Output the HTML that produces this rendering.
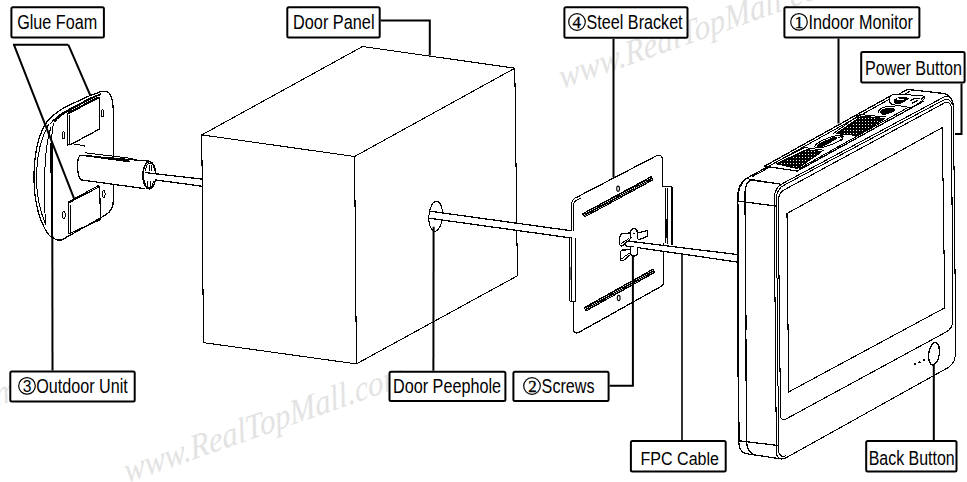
<!DOCTYPE html>
<html><head><meta charset="utf-8"><title>Installation Diagram</title>
<style>
html,body{margin:0;padding:0;background:#fff;}
body{width:967px;height:482px;overflow:hidden;}
svg{display:block;}
.lbl{font-family:"Liberation Sans",sans-serif;font-size:19.3px;fill:#000;}
.num{font-family:"Liberation Sans",sans-serif;font-size:15.6px;fill:#000;}
.nums{font-family:"Liberation Serif",serif;font-size:17px;fill:#000;stroke:#000;stroke-width:0.35px;}
.wm{font-family:"Liberation Serif",serif;font-style:italic;font-size:33px;fill:#e3e3e3;}
.box{fill:#fff;stroke:#000;stroke-width:2;}
.ld{fill:none;stroke:#000;stroke-width:2;}
.ln{fill:none;stroke:#000;stroke-width:1.25;stroke-linejoin:round;stroke-linecap:round;}
.lt{fill:none;stroke:#000;stroke-width:1;stroke-linejoin:round;stroke-linecap:round;}
.lm{fill:none;stroke:#000;stroke-width:1.05;stroke-linejoin:round;}
.lc{fill:none;stroke:#000;stroke-width:1.05;stroke-linejoin:round;}
.th{fill:none;stroke:#000;stroke-width:2;stroke-linejoin:round;}
.wf{fill:#fff;}
</style></head>
<body>
<svg width="967" height="482" viewBox="0 0 967 482">
<!-- watermarks -->
<g id="wm">
<text class="wm" transform="translate(561.5,89) rotate(-19.5) skewX(-9) scale(0.97,1.05)">www.RealTopMall.com</text>
<text class="wm" transform="translate(126.5,483) rotate(-19.3) skewX(-9) scale(0.97,1.05)">www.RealTopMall.com</text>
<text class="wm" transform="translate(-262,497) rotate(-19.3) skewX(-9) scale(0.97,1.05)">www.RealTopMall.com</text>
</g>

<!-- OUTDOOR UNIT -->
<g id="outdoor" shape-rendering="crispEdges">
<!-- back plate outline -->
<path class="ln" d="M46.6,122.2 C52,116 58,111 64.9,107.2 L89.8,95.6 L101,91.6 C106,90.5 109,92 110.5,95 C112.5,99 113,104 113.3,110 L113.6,145 L113.4,200 C113.4,207 111.5,211.5 105.5,215 L62,239.8 C57,241 54,239 51.5,236"/>
<!-- inner parallel top edges -->
<path class="th" d="M54.1,122.2 C58,117 62,114 68,111 L91.5,98.1 L101,94" style="stroke-width:1.6"/>
<path class="lt" d="M50,124 C54,119 58,115.5 65,111.5 L92,97"/>
<!-- front cover curves -->
<path class="ln" d="M46.6,122.2 C40,132 34.8,150 34,173 C33.6,196 38,216 45,229 C47,233 49.5,236 52,238"/>
<path class="lt" d="M48.5,124.5 C42,136 37.2,152 36.5,174 C36.2,194 40,212 46,225"/>
<path class="lt" d="M51,127 C47,140 44.8,160 44.6,180 C44.5,200 44.8,212 45.5,224"/>
<path class="lt" d="M53.5,123.5 C52,130 51.6,137 51.6,144"/>
<path class="th" d="M51.6,143 L51.8,238" style="stroke-width:2.3"/>
<!-- upper foam -->
<path class="ln" d="M67.6,114 L99.4,97.5 L99.4,129.1 L70.8,144.5 L67.6,144.9 Z"/>
<path class="lt" d="M69.5,115.5 L69.5,144.5 M68.3,112.5 L98,97"/>
<path class="lt" d="M72.5,143.7 L84.5,145.8 L84.5,147"/>
<!-- lower foam -->
<path class="ln" d="M68.2,203.1 L99.4,186.7 L100.8,219.4 L68.9,233.9 Z"/>
<path class="lt" d="M70,204 L70.5,233 M69,201.5 L98.5,185.5"/>
<!-- screw holes -->
<ellipse class="lt" cx="63.5" cy="135.4" rx="1.5" ry="3.6"/>
<ellipse class="lt" cx="102.5" cy="113.3" rx="1.5" ry="3.4"/>
<ellipse class="lt" cx="103.6" cy="194" rx="1.5" ry="3.4"/>
<ellipse class="lt" cx="63.8" cy="215" rx="1.5" ry="3.6"/>
<!-- cylinder -->
<path class="wf" d="M79.9,155.4 L148.8,161.1 L149.3,189 L80.4,179.8 C77,175 76.5,160 79.9,155.4 Z"/>
<path class="ln" d="M79.9,155.4 C76.6,160 76.5,172 80.4,179.5 M79.9,155.4 L148.8,161.1 M80.4,179.8 L144.7,188.6"/>
<path class="lt" d="M85,152.8 L132.2,158.5"/>
<path class="th" d="M85,155.4 L130.2,161.6" style="stroke-width:1.8"/>
<!-- end cap -->
<ellipse class="th" cx="149.3" cy="175.3" rx="6.5" ry="13.6" style="fill:#fff;stroke-width:1.4"/>
<path class="lt" d="M145.8,171 C145.8,165.5 147.5,163 150,163 C152.5,163 154.2,165.5 154.2,171 M149.3,165.5 L149.3,171 M151.5,165.5 L151.5,171 M144.8,180 C144.8,185.5 146.8,188 149,188 C151.3,188 153.3,185.5 153.3,180 M147.3,181 L147.3,186.5 M150,181 L150,187"/>
</g>

<!-- DOOR PANEL CUBOID -->
<g id="door" shape-rendering="crispEdges">
<path class="lc" d="M201.8,134.9 L362.6,46.5 L514.8,68.2 L354.6,156.5 Z"/>
<path class="lc" d="M201.8,134.9 L203.4,342.6 L356.4,363.9 L517.4,275.8 L514.8,68.2"/>
<path class="lc" d="M354.6,156.5 L356.4,363.9"/>
<!-- peephole -->
<ellipse class="lc" cx="435.7" cy="216.2" rx="6.8" ry="15" transform="rotate(4 435.7 216.2)"/>
</g>

<!-- RODS -->
<g id="rods" shape-rendering="crispEdges">
<!-- outdoor to door -->
<path class="wf" d="M145,172.6 L201.2,179 L201.2,186.1 L145,179.8 Z"/>
<path class="ln" d="M145.2,172.6 L201.2,179 M155.6,180 L201.2,186.1"/>
<!-- peephole to bracket -->
<path class="wf" d="M430,211.2 L571.5,230.8 L571.5,238 L429,218.2 Z"/>
<path class="ln" d="M430,211.2 L571.5,230.8 M429.1,218.2 L571.5,238"/>

</g>

<!-- STEEL BRACKET -->
<g id="bracket" shape-rendering="crispEdges">
<!-- right flange -->
<path class="wf" d="M662.4,186.8 L671.9,186.8 L671.9,244 L662.4,244 Z"/>
<path class="ln" d="M662.4,186.8 L671.9,186.8 L671.9,244.5"/>
<path class="lt" d="M665.7,188 L665.7,243 M667.8,188 L667.8,243.5"/>
<path class="th" d="M665.9,218.6 L665.9,237.6" style="stroke-width:1.4"/>
<!-- plate -->
<path class="wf" d="M578,196.6 L656,156 C660,154 663,156 663,160 L663.8,281 C663.8,284 662.5,285.8 660,287 L579,332.3 C575,334 573.2,332 573.2,328 L571.5,204 C571.5,200 574,198 578,196.6 Z"/>
<path class="ln" d="M578,196.6 L656,156 C660,154 662.4,156 662.4,160 L662.4,186.8 M663.8,244 L663.8,281 C663.8,284 662.5,285.8 660,287 L579,332.3 C575,334 573.2,332 573.2,328 L573.2,302 M571.5,230.5 L571.5,205 C571.5,200 574,198 578,196.6"/>
<path class="lt" d="M573.4,231 L573.4,206 C573.4,202 575,200.5 578.8,199 L581,197.9"/>
<!-- left flange -->
<path class="lm" d="M569.8,238 L569.8,301 L575.3,301.6 L575.3,238"/>
<path class="lm" d="M571.8,238 L571.8,301"/>
<path class="lm" d="M570.9,267 L570.9,280" style="stroke-width:0.9"/>
<!-- slots -->
<g transform="translate(583.1,215.6) rotate(-28.4)">
<rect x="0" y="-2.4" width="79" height="4.8" rx="0.8" fill="#000"/>
<line x1="1.2" y1="-0.7" x2="77.8" y2="-0.7" stroke="#fff" stroke-width="0.9" stroke-dasharray="1 1.4"/>
<line x1="1.9" y1="1" x2="77.8" y2="1" stroke="#fff" stroke-width="0.8" stroke-dasharray="1 1.4"/>
</g>
<g transform="translate(584.7,309.5) rotate(-29.23)">
<rect x="0" y="-2.4" width="79.6" height="4.8" rx="0.8" fill="#000"/>
<line x1="1.2" y1="-0.7" x2="78.4" y2="-0.7" stroke="#fff" stroke-width="0.9" stroke-dasharray="1 1.4"/>
<line x1="1.9" y1="1" x2="78.4" y2="1" stroke="#fff" stroke-width="0.8" stroke-dasharray="1 1.4"/>
</g>
<ellipse cx="618.1" cy="188.7" rx="1.4" ry="2.6" fill="none" stroke="#000" stroke-width="1.1" shape-rendering="auto"/>
<ellipse cx="618.7" cy="298" rx="1.4" ry="2.6" fill="none" stroke="#000" stroke-width="1.1" shape-rendering="auto"/>
<!-- screws -->
<g id="screws">
<!-- rod from screws to monitor -->
<path class="wf" d="M626,240.8 L736.6,254.4 L736.6,261.9 L626,246 Z"/>
<path class="ln" d="M626.5,240.9 L736,254.4 M628,246.2 L736.5,261.9 M626.5,240.9 C624.8,242 624.8,245 627,246.2"/>
<!-- upper wing screw -->
<path class="wf" d="M621.4,233.5 L630.2,231 L633,228.3 L637.5,229.5 L647.3,230.9 L647.3,236.6 L639,239.7 L630,240 L620.4,246 L619.3,240.7 Z"/>
<path class="ln" d="M630.2,233 L621.4,233.5 L619.3,238 L619.8,244.5 C620.2,246.3 621.5,246.6 623,245.3 L629.5,239.8"/>
<path class="lt" d="M621.3,243.3 L629,238.6" stroke-dasharray="1 0.8"/>
<path class="th" d="M631,238.5 C629.5,234 630.2,229.5 633.2,228.4 C636.2,227.6 637.8,231 637.6,235.5 L637.4,239.5" style="stroke-width:1.5"/>
<path class="ln" d="M637.6,233 L647.3,230.6 L647.3,236.4 L639,239.6"/>
<circle cx="633.8" cy="233.6" r="1" fill="#000"/>
<!-- lower wing screw -->
<path class="wf" d="M621.4,250 L629.7,247 L637.5,247 L637.5,255.8 L629.7,256 L620.4,260.5 Z"/>
<path class="ln" d="M629.7,249.6 L621.4,250.2 L620.2,252.5 L620.4,259.5 C621,261.2 622.5,261.2 624,260 L630,255"/>
<path class="lt" d="M621.6,258.6 L629.3,253.2" stroke-dasharray="1 0.8"/>
<path class="th" d="M630.3,247 L630.3,254 C631.5,256.8 636,256.8 637.4,254 L637.4,247" style="stroke-width:1.5"/>
</g>
</g>

<!-- INDOOR MONITOR -->
<g id="monitor" shape-rendering="crispEdges">
<!-- silhouette fill -->
<path class="wf" d="M737.5,200 C737.5,190 740,182 746,178.7 L907.6,89.4 L944,93.5 C950,95 953,100 953.4,108 L955.8,355 C955.8,362 953,365 948,367.5 L784,459 C778,461 774,459 770,458 L745,454 C741,452 739,448 739,441.5 Z"/>
<!-- back silhouette -->
<path class="th" d="M738.7,441.5 L737.6,200 C737.6,190 740,183 746,178.7" style="stroke-width:1.8"/>
<path class="ln" d="M746,178.7 L907.6,89.4 L944,93.5 C949,94.5 952,98 952.8,104"/>
<path class="ln" d="M738.7,441 C738.9,448 741,452 745,453.5 L781.8,459"/>
<!-- side seam -->
<path class="ln" d="M746.5,441.5 L745,193 C745,186 747,182 750.7,180 L780,184"/>
<path class="ln" d="M746.5,441.5 C747,448 749,452 753,454"/>
<path class="th" d="M746,315 L746.1,330" style="stroke-width:1.4"/>
<path class="ln" d="M737.5,201 L775.5,206 M738.7,440.8 L777.4,445.4"/>
<!-- front face outer (line 1 & 2) -->
<path class="lm" d="M774.1,200 C774.1,192 777,186 783,183.3 L944,97 C949,95 953.4,99 953.4,106 L955.8,351 C955.8,359 953.5,364 948.5,367.4 L786,457.8 C781,460.5 776.4,458 776.4,452 Z"/>
<path class="lt" d="M785.4,455.8 C782,457.5 778.6,455.5 778.6,450 L776.3,200 C776.3,193 779,187.5 784.4,185 L944.5,99.6 C948,98.4 950.5,100 951.5,103.5"/>
<!-- bezel line 3 -->
<path class="lm" d="M778.2,202 C778.2,195 780,191.5 785,189.4 L944.5,102.9 C948.5,101 951.4,104 951.4,109 L952.8,320 C952.8,326 950.5,329.5 946.5,331.8 L786,419 C782.5,421 780.5,419 780.5,415 Z"/>
<!-- screen -->
<path class="lm" d="M787,213.5 L942.3,127.6 L944.8,307.8 L788.6,392 Z"/>
<!-- top face -->
<path class="lt" d="M748.6,179 L780,184.2 M752,176.8 L910,91.2"/>
<!-- top panel -->
<defs>
<pattern id="dots" x="0" y="0" width="3" height="3" patternUnits="userSpaceOnUse">
<rect width="3" height="3" fill="#000"/><rect x="1" y="1" width="1" height="1" fill="#fff"/>
</pattern>
</defs>
<path d="M765.6,165.6 L890.7,95.6 L924.3,100.2 L797.3,170.6 Z" fill="#fff"/>
<path class="ln" d="M764.5,166.2 L890.7,95.8 M765,166.3 L797.3,171 M797.3,171 L923,101.5"/>
<path class="lt" d="M768,166.6 L892,97.8 M799,168.7 L921,100.2"/>
<!-- vents -->
<path d="M776.8,163.7 L806.7,149.7 L821.6,151.6 L797.3,168.4 Z" fill="url(#dots)" stroke="#000" stroke-width="1.3" stroke-linejoin="round"/>
<path d="M836.6,133.6 L861.5,116.2 L884.5,118.6 L857.5,135.3 Z" fill="url(#dots)" stroke="#000" stroke-width="1.3" stroke-linejoin="round"/>
<path class="lt" d="M773.5,163.5 L804.5,147.5 L823.5,150.2 M833.5,133.5 L859.5,114.5 L886,117"/>
<!-- center button -->
<ellipse cx="829" cy="141.6" rx="15" ry="3.7" transform="rotate(-20 829 141.6)" fill="none" stroke="#000" stroke-width="1"/>
<path d="M817.3,147.8 C816,145.5 818.5,143.3 822,142 L833,137.2 C836.5,136.2 838,137.8 836,139.6 L822.5,146.8 C820.5,148 818.3,148.6 817.3,147.8 Z" fill="#000"/>
<path d="M838.5,137.6 C840.5,136.2 843,136.8 842.6,138.8 C842.2,140.5 840,141 838.8,140.2" fill="none" stroke="#000" stroke-width="1"/>
<!-- small oval button -->
<path d="M880,112.5 C880,110 883.5,108.5 887.5,108 L893.5,108 C896.5,108.7 895.5,111.3 892.5,112.5 L885,114.8 C882,115.3 880.3,114.3 880,112.5 Z" fill="#000"/>
<path class="lt" d="M878,113.5 C877.5,110 882,107 888,106.5 L895,106.7"/>
<!-- power button block at top right -->
<path class="lt" d="M889,99 C889,96.5 891,95 894,94.5 L921,95.3 C925,95.8 925.5,98.5 923,100.3 L914.5,106 C912.5,107.3 910.5,107.5 908,107.2 L893.5,104.8 C890,104 889,101.5 889,99 Z" style="fill:#fff"/>
<path d="M893.5,100 L899,96.8 L906,97.2 L909,98.5 L905,101.5 L899,104.5 L895,104 Z" fill="#000"/>
<path class="ln" d="M897,99 L903,99.3 M910.5,99.5 L914.5,97.8 L918,98 M912,102 L916,100" style="stroke-width:1.2;stroke:#fff"/>
<path class="ln" d="M910.5,100.5 L915,98.3 L919.5,98.6 M912.5,103 L917.5,100.6" style="stroke-width:1.2"/>
<path class="th" d="M907.8,89.6 L912,90 M925,96 L921,99.5" style="stroke-width:1.2"/>
<!-- back button -->
<ellipse cx="934" cy="353.7" rx="5.3" ry="11.3" transform="rotate(8 934 353.7)" fill="#fff" stroke="#000" stroke-width="1.4"/>
<circle cx="915.3" cy="364.3" r="1.15" fill="#000"/><circle cx="919.5" cy="362.2" r="1.15" fill="#000"/><circle cx="923.7" cy="360" r="1.15" fill="#000"/>
</g>

<!-- LABEL BOXES -->
<g id="boxes">
<rect class="box" x="11.4" y="7.2" width="92.5" height="30.3" rx="1.5"/>
<text class="lbl" x="17.2" y="28.6" textLength="80" lengthAdjust="spacingAndGlyphs">Glue Foam</text>

<rect class="box" x="287.3" y="7.3" width="92.4" height="30.2" rx="1.5"/>
<text class="lbl" x="293" y="28.6" textLength="81.5" lengthAdjust="spacingAndGlyphs">Door Panel</text>

<rect class="box" x="564.4" y="7.2" width="123.1" height="30.6" rx="1.5"/>
<circle cx="577" cy="22" r="8.3" fill="none" stroke="#000" stroke-width="1.2"/>
<text class="nums" x="576.8" y="27.7" text-anchor="middle">4</text>
<text class="lbl" x="586.6" y="28.7" textLength="96" lengthAdjust="spacingAndGlyphs">Steel Bracket</text>

<rect class="box" x="784.4" y="7.2" width="135" height="30.3" rx="1.5"/>
<circle cx="799" cy="21.9" r="8.3" fill="none" stroke="#000" stroke-width="1.2"/>
<text class="nums" x="799" y="27.7" text-anchor="middle">1</text>
<text class="lbl" x="808.5" y="28.8" textLength="104.5" lengthAdjust="spacingAndGlyphs">Indoor Monitor</text>

<rect class="box" x="861.2" y="52" width="103.4" height="30.5" rx="1.5"/>
<text class="lbl" x="865" y="74.5" textLength="97" lengthAdjust="spacingAndGlyphs">Power Button</text>

<rect class="box" x="10.3" y="371.5" width="124.4" height="30" rx="1.5"/>
<circle cx="27" cy="385.9" r="8.3" fill="none" stroke="#000" stroke-width="1.2"/>
<text class="num" x="27.1" y="391.7" text-anchor="middle">3</text>
<text class="lbl" x="36.3" y="392.8" textLength="91.5" lengthAdjust="spacingAndGlyphs">Outdoor Unit</text>

<rect class="box" x="389.5" y="371.7" width="115.9" height="29.4" rx="1.5"/>
<text class="lbl" x="393" y="392.8" textLength="108" lengthAdjust="spacingAndGlyphs">Door Peephole</text>

<rect class="box" x="513.4" y="371.7" width="95.2" height="29.4" rx="1.5"/>
<circle cx="532" cy="386" r="8.3" fill="none" stroke="#000" stroke-width="1.2"/>
<text class="nums" x="532.4" y="391.7" text-anchor="middle">2</text>
<text class="lbl" x="541.6" y="392.8" textLength="53" lengthAdjust="spacingAndGlyphs">Screws</text>

<rect class="box" x="630.9" y="441" width="94.8" height="30.5" rx="1.5"/>
<text class="lbl" x="640.5" y="465" textLength="78.5" lengthAdjust="spacingAndGlyphs" style="font-size:18.7px">FPC Cable</text>

<rect class="box" x="866.2" y="440.9" width="90.3" height="30.6" rx="1.5"/>
<text class="lbl" x="868.7" y="464.6" textLength="86" lengthAdjust="spacingAndGlyphs">Back Button</text>
</g>

<!-- LEADERS -->
<g id="leaders">
<path class="ld" d="M13,44.8 L68.4,44.8 M14,44.8 L74,198.3 M68.4,44.8 L90.5,95.8"/>
<path class="ld" d="M380.7,20.5 L429.8,20.5 L429.8,55.5"/>
<path class="ld" d="M613.5,38.8 L613.5,177.5"/>
<path class="ld" d="M838.5,38.5 L838.5,123.5"/>
<path class="ld" d="M961.5,83.5 L961.5,134 L955,134"/>
<path class="ld" d="M52.5,370.5 L52.3,236"/>
<path class="ld" d="M433.4,370.7 L433.6,226.8"/>
<path class="ld" d="M609.6,385.7 L632.9,385.7 L632.9,256"/>
<path class="ld" d="M682,441 L682,253.7" style="stroke-width:1.6"/>
<path class="ld" d="M933.8,440 L933.8,365"/>
</g>
</svg>
</body></html>
